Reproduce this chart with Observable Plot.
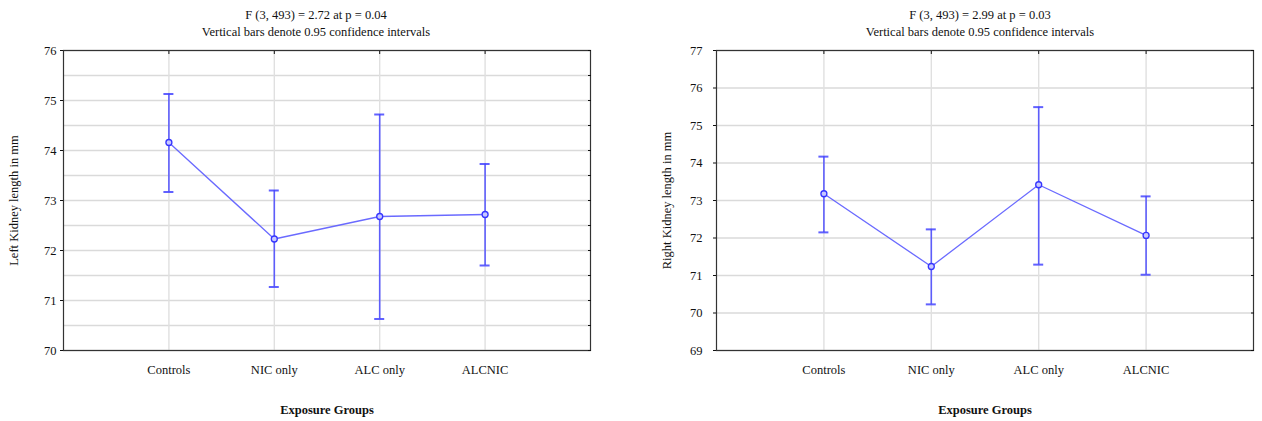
<!DOCTYPE html>
<html>
<head>
<meta charset="utf-8">
<script src="https://cdn.jsdelivr.net/npm/d3@7"></script>
<script src="https://cdn.jsdelivr.net/npm/@observablehq/plot@0.6"></script>
<style>
  body { margin: 0; background: #fff; font-family: "Liberation Serif", "DejaVu Serif", serif; }
  #wrap { display: flex; width: 1262px; }
  .panel { position: relative; }
  .title { height: 40px; box-sizing: border-box; padding-top: 6.5px; font-size: 12.5px; line-height: 17px; text-align: center; color: #111; }
  g[aria-label="x-axis label"] text { font-weight: bold; }
</style>
</head>
<body>
<div id="wrap">
  <div class="panel" id="left" style="width:632px">
    <div class="title" style="width:632px">F (3, 493) = 2.72 at p = 0.04<br>Vertical bars denote 0.95 confidence intervals</div>
  </div>
  <div class="panel" id="right" style="width:630px">
    <div class="title" style="width:630px; padding-left:66px">F (3, 493) = 2.99 at p = 0.03<br>Vertical bars denote 0.95 confidence intervals</div>
  </div>
</div>
<script>
const categories = ["Controls", "NIC only", "ALC only", "ALCNIC"];

const leftMean  = [74.16, 72.23, 72.68, 72.72];
const leftLower = [73.17, 71.27, 70.63, 71.70];
const leftUpper = [75.13, 73.20, 74.72, 73.73];
const leftTicks = [70, 71, 72, 73, 74, 75, 76];
const leftGrid  = [70, 70.5, 71, 71.5, 72, 72.5, 73, 73.5, 74, 74.5, 75, 75.5, 76];

const rightMean  = [73.18, 71.24, 73.42, 72.07];
const rightLower = [72.15, 70.23, 71.29, 71.02];
const rightUpper = [74.17, 72.23, 75.49, 73.11];
const rightTicks = [69, 70, 71, 72, 73, 74, 75, 76, 77];

const xLabel = "Exposure Groups";
const leftYLabel = "Left Kidney length in mm";
const rightYLabel = "Right Kidney length in mm";

// categories sit at positions 1..n on an axis running from 0 to n+1
const catPos = categories.map((g, i) => i + 1);

function rows(mean, lo, hi) {
  return categories.map((g, i) => ({group: g, pos: catPos[i], mean: mean[i], lo: lo[i], hi: hi[i]}));
}

function chart({data, ticks, grid, yLabel, width, marginLeft, marginRight, tickPadding}) {
  const blue = "#4545ff";
  const capStyle = {x1: "pos", x2: "pos", insetLeft: -5, insetRight: -5, stroke: blue, strokeWidth: 2, strokeOpacity: 0.85};
  return Plot.plot({
    width,
    height: 381,
    marginTop: 10,
    marginBottom: 71,
    marginLeft,
    marginRight,
    style: {fontFamily: "Liberation Serif, serif", fontSize: "12.5px", color: "#111", background: "#fff", overflow: "visible"},
    x: {domain: [0, categories.length + 1]},
    y: {domain: [ticks[0], ticks[ticks.length - 1]]},
    marks: [
      Plot.gridY(grid, {stroke: "#dadada", strokeOpacity: 1, strokeWidth: 1.6}),
      Plot.gridX(catPos, {stroke: "#e0e0e0", strokeOpacity: 1, strokeWidth: 1.4}),
      Plot.frame({stroke: "#333", strokeWidth: 1.2}),
      Plot.axisY({ticks, tickFormat: (d) => String(d), tickSize: 3, tickPadding, label: yLabel, labelAnchor: "center", labelArrow: "none", labelOffset: 54}),
      Plot.axisY({anchor: "right", ticks: grid, tickSize: -3, tickFormat: () => "", label: null}),
      Plot.axisX({anchor: "top", ticks: catPos, tickSize: -3, tickFormat: () => "", label: null}),
      Plot.axisX({ticks: catPos, tickFormat: (d) => categories[d - 1], tickSize: 0, tickPadding: 15, label: xLabel, labelAnchor: "center", labelArrow: "none", labelOffset: 63}),
      Plot.ruleX(data, {x: "pos", y1: "lo", y2: "hi", stroke: blue, strokeWidth: 1.6, strokeOpacity: 0.85}),
      Plot.ruleY(data, {y: "hi", ...capStyle}),
      Plot.ruleY(data, {y: "lo", ...capStyle}),
      Plot.line(data, {x: "pos", y: "mean", stroke: "#5a5aff", strokeWidth: 1.3, strokeOpacity: 0.9}),
      Plot.dot(data, {x: "pos", y: "mean", r: 3, stroke: "#3535ff", strokeWidth: 1.3, fill: "#c8c8ff"})
    ]
  });
}

document.getElementById("left").append(chart({
  data: rows(leftMean, leftLower, leftUpper), ticks: leftTicks, grid: leftGrid, yLabel: leftYLabel,
  width: 632, marginLeft: 63, marginRight: 42, tickPadding: 4
}));
document.getElementById("right").append(chart({
  data: rows(rightMean, rightLower, rightUpper), ticks: rightTicks, grid: rightTicks, yLabel: rightYLabel,
  width: 630, marginLeft: 84, marginRight: 9, tickPadding: 11
}));
</script>
</body>
</html>
